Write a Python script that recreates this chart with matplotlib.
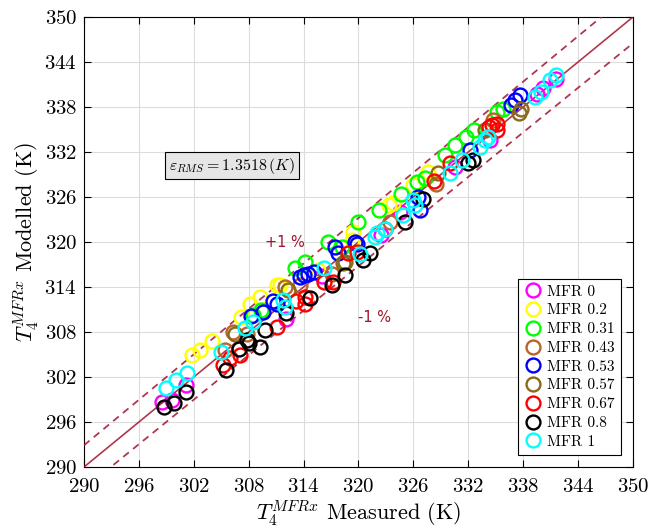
import matplotlib
matplotlib.use("Agg")
import matplotlib.pyplot as plt
import numpy as np

plt.rcParams['font.family'] = 'serif'
plt.rcParams['font.serif'] = ['cmr10']
plt.rcParams['mathtext.fontset'] = 'cm'
plt.rcParams['axes.formatter.use_mathtext'] = True

# measured / modelled T4 per MFR series
x_mfr0 = [298.5, 299.6, 301.2, 312.1, 316.0, 322.5, 324.5, 330.5, 334.4, 339.5, 340.2, 341.6]
y_mfr0 = [298.7, 298.9, 300.9, 309.7, 315.5, 321.0, 324.0, 330.0, 333.6, 339.8, 340.5, 341.8]

x_mfr02 = [301.8, 302.7, 304.0, 307.2, 308.1, 309.2, 311.1, 311.4, 315.6, 319.3, 319.4, 323.3, 323.8, 326.0, 327.6]
y_mfr02 = [304.9, 305.6, 306.8, 310.0, 311.8, 312.7, 314.3, 314.3, 316.3, 320.3, 321.4, 324.9, 325.2, 327.6, 329.4]

x_mfr031 = [308.5, 309.4, 313.1, 314.2, 316.7, 318.2, 320.0, 322.2, 324.7, 326.4, 327.3, 329.5, 330.5, 331.8, 332.6, 335.1, 335.8]
y_mfr031 = [310.3, 310.9, 316.5, 317.3, 320.0, 319.4, 322.7, 324.3, 326.4, 328.0, 328.5, 331.6, 333.0, 334.0, 335.0, 337.4, 337.8]

x_mfr043 = [305.4, 306.3, 307.8, 312.0, 313.6, 317.1, 323.4, 328.5, 334.7]
y_mfr043 = [305.6, 308.0, 307.8, 314.0, 314.3, 315.8, 322.7, 327.8, 336.3]

x_mfr053 = [308.3, 309.6, 310.7, 311.1, 313.6, 314.0, 314.5, 315.1, 317.4, 317.8, 319.6, 319.8, 326.5, 326.7, 332.2, 336.7, 337.1, 337.6]
y_mfr053 = [310.1, 310.7, 312.1, 311.8, 315.4, 315.6, 315.8, 316.0, 319.4, 318.5, 320.0, 319.8, 326.0, 324.3, 332.3, 338.3, 338.9, 339.6]

x_mfr057 = [306.5, 312.3, 318.3, 318.5, 328.7, 333.8, 337.5, 337.8]
y_mfr057 = [307.8, 313.6, 317.2, 317.4, 329.2, 334.9, 337.2, 337.8]

x_mfr067 = [305.2, 306.0, 307.1, 311.1, 313.2, 314.2, 314.2, 316.2, 317.2, 318.9, 319.8, 322.9, 328.3, 330.0, 334.3, 334.6, 335.1, 335.1]
y_mfr067 = [303.6, 304.5, 305.0, 308.7, 312.1, 311.8, 312.7, 314.7, 314.7, 318.5, 318.7, 321.8, 328.2, 330.5, 335.4, 335.6, 335.8, 334.9]

x_mfr08 = [298.7, 299.8, 301.1, 305.5, 306.9, 307.8, 308.0, 309.2, 309.8, 312.1, 314.7, 317.1, 318.5, 320.5, 321.3, 325.1, 327.1, 332.0, 332.5]
y_mfr08 = [298.0, 298.6, 300.0, 302.9, 305.8, 306.9, 306.6, 306.0, 308.3, 310.5, 312.6, 314.3, 315.6, 317.6, 318.6, 322.7, 325.7, 330.5, 330.9]

x_mfr1 = [299.0, 300.1, 301.3, 305.0, 307.6, 308.5, 311.8, 312.0, 316.2, 320.2, 321.8, 322.0, 322.9, 324.9, 326.0, 326.2, 330.0, 331.3, 333.3, 333.8, 334.2, 339.3, 340.0, 340.9, 341.6]
y_mfr1 = [300.5, 301.6, 302.5, 305.3, 308.6, 309.4, 312.3, 311.4, 316.5, 318.4, 320.7, 321.2, 321.7, 323.6, 325.6, 324.9, 329.2, 330.9, 332.7, 333.6, 334.0, 339.4, 340.0, 341.6, 342.3]

labels = ['MFR 0', 'MFR 0.2', 'MFR 0.31', 'MFR 0.43', 'MFR 0.53', 'MFR 0.57', 'MFR 0.67', 'MFR 0.8', 'MFR 1']
colors = ['#FF00FF', '#FFFF00', '#00FF00', '#B8642A', '#0000FF', '#8A6A1A', '#FF0000', '#000000', '#00FFFF']
xs = [x_mfr0, x_mfr02, x_mfr031, x_mfr043, x_mfr053, x_mfr057, x_mfr067, x_mfr08, x_mfr1]
ys = [y_mfr0, y_mfr02, y_mfr031, y_mfr043, y_mfr053, y_mfr057, y_mfr067, y_mfr08, y_mfr1]

fig = plt.figure(figsize=(6.48, 5.28), dpi=100)
ax = fig.add_axes([0.1296, 0.1155, 0.8472, 0.8523])

line_col = '#A2142F'
ref = np.array([290, 350])
ax.plot(ref, ref, color=line_col, lw=1.2, alpha=0.85, zorder=3)
ax.plot(ref, ref * 1.01, color=line_col, lw=1.3, ls=(0, (4, 3)), alpha=0.85, zorder=3)
ax.plot(ref, ref * 0.99, color=line_col, lw=1.3, ls=(0, (4, 3)), alpha=0.85, zorder=3)

for x, y, c, lab in zip(xs, ys, colors, labels):
    ax.plot(x, y, 'o', mfc='none', mec=c, mew=1.7, ms=10, label=lab, zorder=4)

ax.set_xlim(290, 350)
ax.set_ylim(290, 350)
ticks = np.arange(290, 351, 6)
ax.set_xticks(ticks)
ax.set_yticks(ticks)
ax.tick_params(direction='in', top=True, right=True, labelsize=15, length=5)
ax.tick_params(axis='x', pad=8)
ax.tick_params(axis='y', pad=5)
ax.grid(True, color='#DCDCDC', lw=0.8)
ax.set_axisbelow(True)

ax.set_xlabel(r'$T_4^{MFRx}$ Measured (K)', fontsize=16, labelpad=2)
ax.set_ylabel(r'$T_4^{MFRx}$ Modelled (K)', fontsize=16, labelpad=2)

ax.text(312.0, 320.0, '+1 %', color=line_col, fontsize=10.5, family='DejaVu Sans',
        ha='center', va='center', zorder=10)
ax.text(321.8, 309.9, '-1 %', color=line_col, fontsize=10.5, family='DejaVu Sans',
        ha='center', va='center', zorder=10)
ax.text(306.2, 330.2, r'$\varepsilon_{RMS} = 1.3518\,(K)$', fontsize=11.5, ha='center', va='center',
        zorder=10, bbox=dict(boxstyle='square,pad=0.25', fc='#E6E6E6', ec='black', lw=0.8))

leg = ax.legend(loc='lower right', fontsize=11, fancybox=False, framealpha=1, edgecolor='black',
                handletextpad=0.3, borderpad=0.4, labelspacing=0.33, handlelength=1.2,
                borderaxespad=0, bbox_to_anchor=(0.978, 0.027))
leg.get_frame().set_linewidth(0.8)
leg.set_zorder(11)

fig.savefig('out.png', dpi=100)
